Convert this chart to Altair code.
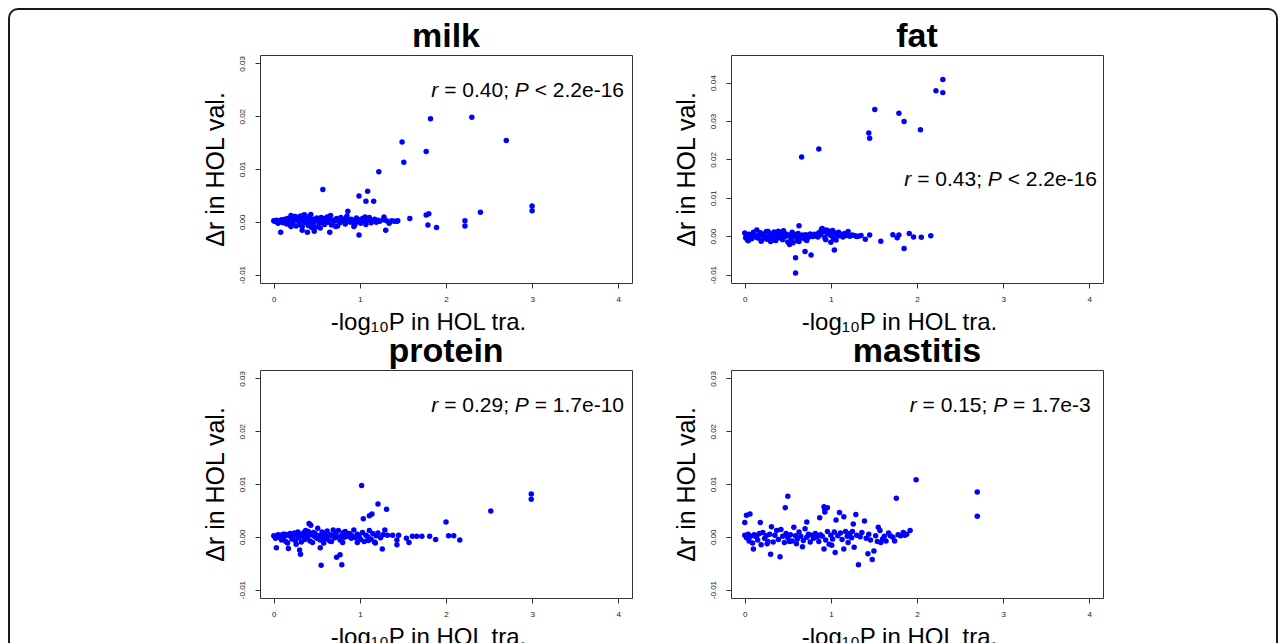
import altair as alt
import pandas as pd

# ---------------- data ----------------
milk_x = [2.30, 1.82, 1.49, 1.51, 1.77, 2.70, 1.22, 0.57, 0.99, 1.09,
          1.07, 1.16, 3.00, 3.00, 2.40, 1.77, 1.80, 2.22, 2.22, 1.79,
          1.89, 1.58, 0.86, 0.99, 0.08, 0.65, 0.39, 0.33, 0.47, 1.30,
          1.28, 1.43,
          0.00, 0.01, 0.03, 0.04, 0.06, 0.08, 0.09, 0.11, 0.12, 0.14,
          0.15, 0.16, 0.18, 0.19, 0.20, 0.21, 0.22, 0.23, 0.25, 0.26,
          0.27, 0.28, 0.30, 0.31, 0.32, 0.33, 0.34, 0.36, 0.37, 0.38,
          0.40, 0.41, 0.42, 0.43, 0.45, 0.46, 0.48, 0.49, 0.50, 0.52,
          0.53, 0.55, 0.56, 0.58, 0.59, 0.60, 0.62, 0.63, 0.64, 0.66,
          0.67, 0.69, 0.70, 0.72, 0.73, 0.75, 0.77, 0.78, 0.80, 0.82,
          0.83, 0.85, 0.87, 0.89, 0.90, 0.92, 0.94, 0.96, 0.97, 0.99,
          1.01, 1.03, 1.05, 1.07, 1.09, 1.11, 1.13, 1.15, 1.17, 1.19,
          1.21, 1.23, 1.27, 1.31, 1.34, 1.37, 1.40, 1.44, 0.20, 0.24,
          0.35, 0.44, 0.54, 0.65, 0.74, 0.84, 0.93, 1.06, 0.05, 0.13]
milk_dr = [0.0198, 0.0195, 0.0151, 0.0113, 0.0133, 0.0154, 0.0095, 0.0061, 0.0049, 0.0058,
           0.0039, 0.0039, 0.0030, 0.0021, 0.0018, 0.0013, 0.0015, 0.0002, -0.0008, -0.0006,
           -0.0011, 0.0006, 0.0020, -0.0025, -0.0020, -0.0020, -0.0020, -0.0016, -0.0018, -0.0016,
           0.0009, 0.0001,
           0.0002, 0.0001, 0.0003, -0.0001, 0.0002, 0.0000, 0.0004, -0.0002, 0.0003, 0.0001,
           -0.0004, 0.0006, 0.0002, -0.0006, 0.0012, 0.0008, -0.0003, 0.0005, 0.0010, -0.0008,
           0.0003, 0.0007, -0.0005, 0.0011, 0.0001, -0.0009, 0.0006, 0.0013, -0.0002, 0.0004,
           -0.0007, 0.0009, 0.0002, 0.0014, -0.0004, 0.0005, 0.0001, -0.0010, 0.0007, 0.0003,
           -0.0003, 0.0008, 0.0000, 0.0006, -0.0005, 0.0002, 0.0009, -0.0001, 0.0004, 0.0012,
           -0.0006, 0.0003, 0.0001, -0.0009, 0.0006, 0.0002, -0.0002, 0.0008, 0.0004, 0.0001,
           -0.0004, 0.0011, 0.0003, -0.0001, 0.0005, 0.0002, -0.0006, 0.0007, 0.0000, 0.0004,
           -0.0003, 0.0006, 0.0001, -0.0005, 0.0003, 0.0008, -0.0002, 0.0002, 0.0005, -0.0001,
           0.0003, 0.0001, 0.0004, 0.0002, -0.0003, 0.0002, 0.0001, 0.0002, -0.0009, 0.0010,
           0.0013, -0.0011, -0.0012, 0.0010, -0.0008, 0.0007, -0.0009, 0.0009, -0.0003, 0.0005]

fat_x = [2.30, 2.22, 2.30, 1.51, 1.79, 1.85, 1.44, 1.45, 2.04, 0.86,
         0.66, 0.59, 0.59, 0.70, 0.77, 1.04, 1.85, 0.63, 1.58, 1.77,
         1.72, 1.79, 1.91, 1.96, 2.05, 2.16, 1.32, 1.40, 1.45, 0.52,
         1.00, 0.90,
         0.00, 0.01, 0.02, 0.04, 0.05, 0.07, 0.08, 0.10, 0.11, 0.13,
         0.14, 0.15, 0.17, 0.18, 0.20, 0.21, 0.22, 0.24, 0.25, 0.26,
         0.28, 0.29, 0.30, 0.31, 0.33, 0.34, 0.35, 0.36, 0.38, 0.39,
         0.40, 0.42, 0.43, 0.44, 0.46, 0.47, 0.48, 0.50, 0.51, 0.53,
         0.54, 0.55, 0.57, 0.58, 0.60, 0.61, 0.62, 0.64, 0.65, 0.67,
         0.68, 0.70, 0.71, 0.73, 0.74, 0.76, 0.78, 0.79, 0.81, 0.83,
         0.84, 0.86, 0.88, 0.89, 0.91, 0.93, 0.95, 0.96, 0.98, 1.00,
         1.02, 1.03, 1.05, 1.07, 1.09, 1.10, 1.12, 1.14, 1.16, 1.18,
         1.20, 1.22, 1.25, 1.28, 1.30, 1.35, 0.19, 0.32, 0.45, 0.56,
         0.72, 0.85, 0.94, 1.06, 0.03, 0.63, 0.27, 0.37]
fat_dr = [0.0408, 0.0379, 0.0374, 0.0330, 0.0320, 0.0299, 0.0269, 0.0255, 0.0277, 0.0227,
          0.0206, -0.0056, -0.0096, -0.0040, -0.0049, -0.0036, -0.0032, 0.0027, -0.0013, -0.0004,
          0.0004, 0.0003, 0.0007, -0.0002, -0.0003, 0.0001, 0.0000, -0.0008, 0.0003, -0.0022,
          -0.0016, 0.0020,
          0.0008, -0.0004, 0.0002, -0.0012, 0.0005, 0.0001, -0.0007, 0.0010, 0.0003, -0.0002,
          0.0016, -0.0005, 0.0004, 0.0009, -0.0010, 0.0002, 0.0006, -0.0003, 0.0012, -0.0008,
          0.0001, 0.0007, -0.0014, 0.0004, -0.0006, 0.0011, 0.0000, -0.0011, 0.0005, 0.0013,
          -0.0004, 0.0002, 0.0008, -0.0009, 0.0003, -0.0001, 0.0006, -0.0015, 0.0001, 0.0004,
          -0.0007, 0.0010, -0.0002, 0.0005, 0.0000, -0.0012, 0.0007, 0.0002, -0.0005, 0.0003,
          0.0001, -0.0008, 0.0004, 0.0000, -0.0003, 0.0006, 0.0002, -0.0001, 0.0005, 0.0003,
          0.0000, 0.0009, 0.0004, 0.0018, 0.0011, -0.0004, 0.0016, 0.0006, 0.0013, 0.0002,
          0.0015, -0.0006, 0.0008, 0.0003, 0.0010, 0.0001, 0.0005, -0.0002, 0.0007, 0.0002,
          0.0012, 0.0000, 0.0003, 0.0001, -0.0001, 0.0002, -0.0013, -0.0010, 0.0014, -0.0017,
          -0.0011, -0.0002, -0.0009, -0.0010, -0.0009, -0.0014, 0.0012, -0.0004]

protein_x = [1.02, 2.99, 2.99, 2.52, 1.21, 1.31, 1.14, 1.11, 1.04, 2.00,
             0.41, 0.43, 0.55, 0.79, 0.73, 0.77, 0.31, 0.30, 0.03, 0.17,
             0.54, 1.26, 2.16, 2.09, 2.03, 1.88, 1.81, 1.72, 1.66, 1.61,
             1.57, 1.54, 1.43, 1.43, 1.45, 1.38, 0.80,
             0.00, 0.02, 0.03, 0.05, 0.06, 0.08, 0.09, 0.11, 0.12, 0.14,
             0.15, 0.16, 0.18, 0.19, 0.21, 0.22, 0.24, 0.25, 0.27, 0.28,
             0.29, 0.31, 0.32, 0.34, 0.35, 0.36, 0.38, 0.39, 0.40, 0.42,
             0.44, 0.45, 0.47, 0.48, 0.50, 0.51, 0.52, 0.54, 0.56, 0.57,
             0.59, 0.60, 0.62, 0.63, 0.65, 0.66, 0.68, 0.69, 0.71, 0.72,
             0.74, 0.75, 0.77, 0.79, 0.81, 0.82, 0.84, 0.86, 0.88, 0.90,
             0.91, 0.93, 0.95, 0.97, 0.99, 1.01, 1.03, 1.05, 1.07, 1.09,
             1.11, 1.13, 1.15, 1.17, 1.19, 1.21, 1.24, 1.27, 1.29, 1.32,
             0.26, 0.37, 0.46, 0.58, 0.67, 0.83, 0.97, 1.10, 1.18, 0.13]
protein_dr = [0.0097, 0.0081, 0.0071, 0.0049, 0.0062, 0.0052, 0.0043, 0.0040, 0.0034, 0.0028,
              0.0025, 0.0022, -0.0054, -0.0053, -0.0039, -0.0034, -0.0033, -0.0025, -0.0021, -0.0022,
              -0.0021, -0.0023, -0.0006, 0.0002, 0.0002, -0.0005, 0.0001, 0.0001, 0.0001, 0.0001,
              -0.0011, -0.0003, -0.0015, -0.0006, 0.0003, 0.0003, -0.0011,
              0.0002, -0.0003, 0.0001, 0.0004, -0.0001, 0.0003, -0.0006, 0.0005, 0.0000, -0.0009,
              0.0004, -0.0012, 0.0002, 0.0006, -0.0004, 0.0001, 0.0007, -0.0007, 0.0003, 0.0009,
              -0.0002, 0.0005, -0.0010, 0.0001, 0.0008, -0.0005, 0.0003, -0.0001, 0.0010, -0.0008,
              0.0004, -0.0011, 0.0001, 0.0006, -0.0003, 0.0016, 0.0002, -0.0006, 0.0009, 0.0000,
              0.0005, -0.0004, 0.0011, 0.0001, -0.0008, 0.0004, 0.0002, 0.0013, -0.0002, 0.0006,
              0.0000, 0.0012, -0.0006, 0.0003, 0.0008, -0.0001, 0.0004, 0.0001, 0.0006, -0.0003,
              0.0002, 0.0013, -0.0002, 0.0005, 0.0001, -0.0005, 0.0008, -0.0009, 0.0003, 0.0000,
              0.0012, -0.0004, 0.0006, -0.0010, 0.0002, 0.0007, -0.0002, 0.0004, 0.0013, 0.0003,
              -0.0014, 0.0012, 0.0008, -0.0012, -0.0009, 0.0010, -0.0011, -0.0007, -0.0012, 0.0005]

mastitis_x = [1.99, 2.70, 2.70, 1.76, 0.50, 0.47, 0.92, 0.93, 0.96, 0.93,
              1.10, 1.15, 1.29, 0.87, 0.02, 0.06, 0.00, 0.18, 0.72, 1.06,
              1.26, 1.39, 1.92, 1.55, 1.32, 1.48, 1.50, 1.43, 0.41, 0.30,
              1.05, 0.10, 1.15, 1.27, 0.67, 0.92, 0.98, 1.20,
              0.00, 0.02, 0.04, 0.05, 0.07, 0.09, 0.11, 0.13, 0.15, 0.17,
              0.19, 0.21, 0.23, 0.25, 0.27, 0.29, 0.31, 0.33, 0.35, 0.37,
              0.39, 0.42, 0.44, 0.46, 0.48, 0.50, 0.53, 0.55, 0.57, 0.59,
              0.61, 0.63, 0.65, 0.68, 0.70, 0.72, 0.74, 0.76, 0.78, 0.80,
              0.82, 0.84, 0.86, 0.88, 0.90, 0.94, 0.96, 1.00, 1.02, 1.04,
              1.08, 1.11, 1.13, 1.17, 1.19, 1.22, 1.24, 1.30, 1.34, 1.36,
              1.41, 1.44, 1.46, 1.52, 1.54, 1.57, 1.60, 1.62, 1.64, 1.67,
              1.69, 1.72, 1.74, 1.78, 1.81, 1.84, 1.86, 1.88, 0.26, 0.60,
              0.85, 1.01, 1.25, 1.58, 0.14, 0.52]
mastitis_dr = [0.0108, 0.0085, 0.0039, 0.0073, 0.0077, 0.0055, 0.0057, 0.0052, 0.0055, 0.0047,
               0.0046, 0.0038, 0.0042, 0.0036, 0.0041, 0.0043, 0.0027, 0.0027, 0.0028, 0.0032,
               0.0024, 0.0030, 0.0012, 0.0018, -0.0053, -0.0043, -0.0027, -0.0032, -0.0038, -0.0033,
               -0.0030, -0.0023, -0.0023, -0.0020, -0.0019, -0.0023, -0.0014, -0.0011,
               0.0003, -0.0002, 0.0005, -0.0008, 0.0001, -0.0012, 0.0004, 0.0000, -0.0006, 0.0006,
               -0.0015, 0.0008, -0.0003, 0.0002, -0.0009, 0.0005, 0.0019, -0.0010, 0.0003, 0.0012,
               -0.0005, 0.0014, 0.0001, -0.0011, 0.0006, -0.0002, 0.0004, -0.0008, 0.0018, 0.0002,
               -0.0004, 0.0009, 0.0001, -0.0007, 0.0015, -0.0001, 0.0005, -0.0010, 0.0003, -0.0003,
               0.0006, 0.0000, -0.0009, 0.0004, 0.0001, -0.0006, 0.0010, 0.0003, -0.0004, 0.0009,
               0.0002, 0.0007, -0.0005, 0.0010, 0.0001, 0.0006, -0.0002, 0.0003, 0.0000, 0.0008,
               -0.0003, 0.0005, -0.0006, 0.0002, -0.0009, 0.0012, -0.0004, 0.0001, -0.0008, 0.0007,
               0.0002, -0.0001, -0.0008, 0.0004, 0.0002, 0.0008, 0.0003, 0.0005, -0.0013, -0.0013,
               0.0002, -0.0016, 0.0010, -0.0011, 0.0002, -0.0009]

panel_titles = ["milk", "fat", "protein", "mastitis"]
annotations = [
    [("r", "italic"), ("= 0.40;", "normal"), ("P", "italic"), ("< 2.2e-16", "normal")],
    [("r", "italic"), ("= 0.43;", "normal"), ("P", "italic"), ("< 2.2e-16", "normal")],
    [("r", "italic"), ("= 0.29;", "normal"), ("P", "italic"), ("= 1.7e-10", "normal")],
    [("r", "italic"), ("= 0.15;", "normal"), ("P", "italic"), ("= 1.7e-3", "normal")],
]
ann_x = [4.067, 4.09, 4.067, 4.017]
ann_y = [0.02364, 0.0132, 0.02364, 0.02364]
y_domains = [[-0.0116, 0.0316], [-0.0122, 0.0472], [-0.0116, 0.0316], [-0.0116, 0.0316]]
y_ticks = [[-0.01, 0.0, 0.01, 0.02, 0.03],
           [-0.01, 0.0, 0.01, 0.02, 0.03, 0.04],
           [-0.01, 0.0, 0.01, 0.02, 0.03],
           [-0.01, 0.0, 0.01, 0.02, 0.03]]
x_ticks = [0, 1, 2, 3, 4]
x_domain = [-0.16, 4.16]

assert len(milk_x) == len(milk_dr)
assert len(fat_x) == len(fat_dr)
assert len(protein_x) == len(protein_dr)
assert len(mastitis_x) == len(mastitis_dr)

# ---------------- styling ----------------
W, H = 372, 228
FONT = "Liberation Sans"
TFONT = "Liberation Sans"
ANN_SIZE = 21
TITLE_SIZE = 34
ADV = {" ": 278, "=": 584, "<": 584, ".": 278, ";": 278, "-": 333, "e": 556,
       "P": 667, "r": 333}
for d in "0123456789":
    ADV[d] = 556


def tw(s, size):
    return sum(ADV.get(c, 556) for c in s) / 1000.0 * size


def panel(i, xs, ys, frame=False):
    df = pd.DataFrame({"x": xs, "dr": ys})
    xenc = alt.X(
        "x:Q",
        scale=alt.Scale(domain=x_domain, nice=False, zero=False),
        axis=alt.Axis(
            values=x_ticks, format="d", grid=False, domain=False,
            tickSize=5, tickColor="#333333", tickWidth=1,
            labelFont=FONT, labelFontSize=8, labelColor="#222222",
            labelPadding=7, labelFlush=False, labelOverlap=False,
            title="-log\u2081\u2080P in HOL tra.", titleFont=FONT, titleFontSize=24,
            titleFontWeight="normal", titleColor="black",
            titleX=W / 2 - 18, titleY=46, titleAlign="center",
            titleBaseline="alphabetic",
        ),
    )
    yenc = alt.Y(
        "dr:Q",
        scale=alt.Scale(domain=y_domains[i], nice=False, zero=False),
        axis=alt.Axis(
            values=y_ticks[i], grid=False, domain=False,
            labelExpr="replace(format(datum.value, '.2f'), '\u2212', '-')",
            tickSize=5, tickColor="#333333", tickWidth=1,
            labelFont=FONT, labelFontSize=8, labelColor="#222222",
            labelAngle=270, labelAlign="center", labelBaseline="alphabetic",
            labelPadding=11, labelOverlap=False, labelFlush=False,
            title="\u0394r in HOL val.", titleFont=FONT, titleFontSize=25,
            titleFontWeight="normal", titleColor="black",
            titleAngle=270, titleX=-37, titleY=H / 2, titleAlign="center",
            titleBaseline="alphabetic",
        ),
    )
    layers = []
    if frame:
        fdf = pd.DataFrame({"k": [0]})
        layers.append(
            alt.Chart(fdf).mark_rect(
                filled=False, stroke="#1a1a1a", strokeWidth=2, cornerRadius=9
            ).encode(x=alt.value(-251), x2=alt.value(1017),
                     y=alt.value(-46), y2=alt.value(700))
        )
    layers.append(
        alt.Chart(df).mark_circle(size=30, color="#0000FF", opacity=1).encode(x=xenc, y=yenc)
    )
    adf = pd.DataFrame({"x": [ann_x[i]], "dr": [ann_y[i]]})
    gap = tw(" ", ANN_SIZE)
    off = 0.0
    for text, style in reversed(annotations[i]):
        layers.append(
            alt.Chart(adf).mark_text(
                text=text, align="right", baseline="alphabetic", dx=-off,
                font=FONT, fontSize=ANN_SIZE, fontStyle=style, color="black",
            ).encode(x=xenc, y=yenc)
        )
        off += tw(text, ANN_SIZE) + gap
    title = alt.TitleParams(
        text=panel_titles[i], font=TFONT, fontSize=TITLE_SIZE, fontWeight="bold",
        color="black", anchor="middle", baseline="alphabetic",
        offset=-73 if frame else -26,
    )
    return alt.layer(*layers).properties(width=W, height=H, title=title)


chart = alt.concat(
    panel(0, milk_x, milk_dr, frame=True),
    panel(1, fat_x, fat_dr),
    panel(2, protein_x, protein_dr),
    panel(3, mastitis_x, mastitis_dr),
    columns=2,
    spacing={"row": 87, "column": 99},
    bounds="flush",
).properties(
    padding={"left": -1, "top": -1, "right": 0, "bottom": 0},
    background="white",
).configure_view(
    stroke="#333333", strokeWidth=1
)

chart.save("out.html", embed_options={"renderer": "svg", "actions": False})
